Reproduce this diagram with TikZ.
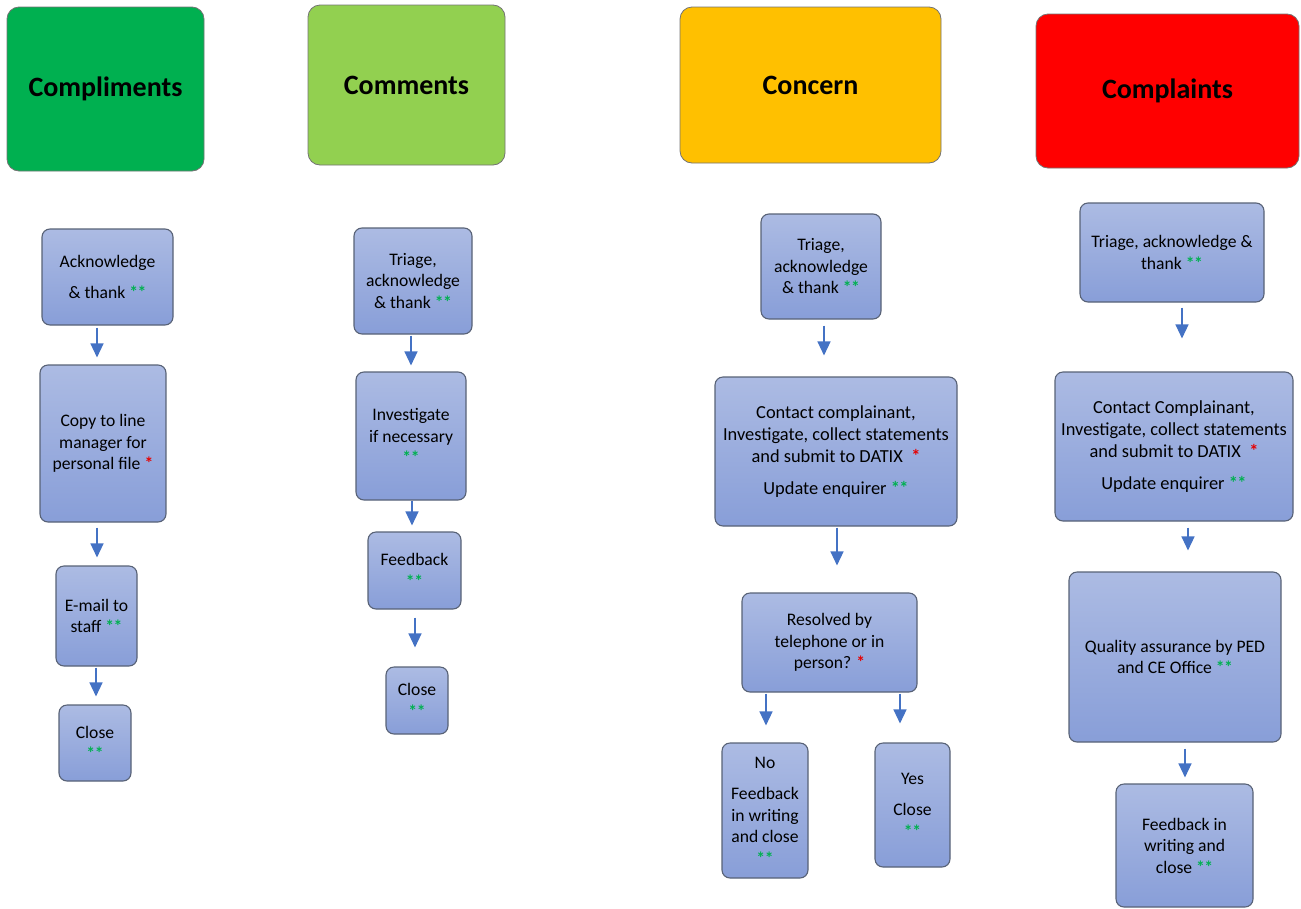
\documentclass[tikz,border=0pt]{standalone}
\usepackage{fontspec}
\setmainfont{Carlito}
\usetikzlibrary{arrows.meta}
\definecolor{cgreen}{RGB}{0,176,80}
\definecolor{clgreen}{RGB}{146,208,80}
\definecolor{corange}{RGB}{255,192,0}
\definecolor{cred}{RGB}{255,0,0}
\definecolor{btop}{RGB}{172,187,227}
\definecolor{bbot}{RGB}{136,158,216}
\definecolor{bdraw}{RGB}{88,98,118}
\definecolor{arrblue}{RGB}{68,114,196}
\definecolor{stargreen}{RGB}{0,176,80}
\definecolor{starred}{RGB}{230,0,0}
\newcommand{\gs}{\textcolor{stargreen}{\bfseries*\kern-0.5pt*}}
\newcommand{\rs}{\textcolor{starred}{\bfseries*}}
\tikzset{
  headbox/.style={rounded corners=12pt, draw=black!55, line width=0.8pt, inner sep=0pt,
    font=\fontsize{28}{32}\selectfont\bfseries},
  stepbox/.style={rounded corners=8pt, draw=bdraw, line width=1.1pt, top color=btop, bottom color=bbot,
    align=center, inner sep=0pt, font=\fontsize{17.6}{21.5}\selectfont},
  arr/.style={draw=arrblue, line width=1.3pt, -{Triangle[width=13pt,length=14pt]}, arrblue}
}
\begin{document}
\begin{tikzpicture}[x=1pt,y=-1pt]
\useasboundingbox (0,0) rectangle (1301,908);
% headers
\node[headbox, fill=cgreen, minimum width=197pt, minimum height=164pt] (h1) at (105.5,89) {Compliments};
\node[headbox, fill=clgreen, minimum width=197pt, minimum height=160pt] (h2) at (406.5,85) {Comments};
\node[headbox, fill=corange, minimum width=261pt, minimum height=156pt] (h3) at (810.5,85) {Concern};
\node[headbox, fill=cred, minimum width=263pt, minimum height=154pt] (h4) at (1167.5,91) {Complaints};
% compliments
\node[stepbox, minimum width=131pt, minimum height=96pt] (a1) at (107.5,277) {Acknowledge\\[9pt]\& thank \gs};
\node[stepbox, minimum width=126pt, minimum height=157pt] (a2) at (103,443.5) {Copy to line\\manager for\\personal file \rs};
\node[stepbox, minimum width=81pt, minimum height=100pt] (a3) at (96.5,616) {E-mail to\\staff \gs};
\node[stepbox, minimum width=72pt, minimum height=76pt] (a4) at (95,743) {Close\\\gs};
% comments
\node[stepbox, minimum width=118pt, minimum height=106pt] (b1) at (413,281) {Triage,\\acknowledge\\\& thank \gs};
\node[stepbox, minimum width=110pt, minimum height=128pt] (b2) at (411,436) {Investigate\\if necessary\\\gs};
\node[stepbox, minimum width=93pt, minimum height=77pt] (b3) at (414.5,570.5) {Feedback\\\gs};
\node[stepbox, minimum width=62pt, minimum height=67pt] (b4) at (417,700.5) {Close\\\gs};
% concern
\node[stepbox, minimum width=120pt, minimum height=105pt] (c1) at (821,266.5) {Triage,\\acknowledge\\\& thank \gs};
\node[stepbox, minimum width=242pt, minimum height=149pt, font=\fontsize{18.4}{22}\selectfont] (c2) at (836,451.5) {Contact complainant,\\Investigate, collect statements\\and submit to DATIX\ \ \rs\\[10pt]Update enquirer \gs};
\node[stepbox, minimum width=175pt, minimum height=99pt] (c3) at (829.5,642.5) {Resolved by\\telephone or in\\person? \rs};
\node[stepbox, minimum width=86pt, minimum height=135pt] (c4) at (765,810.5) {No\\[10pt]Feedback\\in writing\\and close\\\gs};
\node[stepbox, minimum width=75pt, minimum height=124pt] (c5) at (912.5,805) {Yes\\[10pt]Close\\\gs};
% complaints
\node[stepbox, minimum width=184pt, minimum height=99pt] (d1) at (1172,252.5) {Triage, acknowledge \&\\thank \gs};
\node[stepbox, minimum width=238pt, minimum height=149pt, font=\fontsize{18.4}{22}\selectfont] (d2) at (1174,446.5) {Contact Complainant,\\Investigate, collect statements\\and submit to DATIX\ \ \rs\\[10pt]Update enquirer \gs};
\node[stepbox, minimum width=212pt, minimum height=170pt] (d3) at (1175,657) {Quality assurance by PED\\and CE Office \gs};
\node[stepbox, minimum width=137pt, minimum height=123pt] (d4) at (1184.5,845.5) {Feedback in\\writing and\\close \gs};
% arrows
\draw[arr] ([xshift=-10.5pt,yshift=-2pt]a1.south) -- ([xshift=-6pt,yshift=7pt]a2.north);
\draw[arr] ([xshift=-6pt,yshift=-5pt]a2.south) -- ([xshift=0.5pt,yshift=8pt]a3.north);
\draw[arr] ([xshift=-0.5pt,yshift=-1pt]a3.south) -- ([xshift=1pt,yshift=8pt]a4.north);
\draw[arr] ([xshift=-2pt,yshift=-1pt]b1.south) -- ([xshift=0pt,yshift=6pt]b2.north);
\draw[arr] ([xshift=1pt,yshift=0pt]b2.south) -- ([xshift=-2.5pt,yshift=6pt]b3.north);
\draw[arr] ([xshift=0.5pt,yshift=-8pt]b3.south) -- ([xshift=-2pt,yshift=19pt]b4.north);
\draw[arr] ([xshift=3pt,yshift=-6pt]c1.south) -- ([xshift=-12pt,yshift=21pt]c2.north);
\draw[arr] ([xshift=1pt,yshift=-1pt]c2.south) -- ([xshift=7.5pt,yshift=27pt]c3.north);
\draw[arr] ([xshift=-63.5pt,yshift=-1pt]c3.south) -- ([xshift=1pt,yshift=17pt]c4.north);
\draw[arr] ([xshift=70.5pt,yshift=-1pt]c3.south) -- ([xshift=-12.5pt,yshift=19pt]c5.north);
\draw[arr] ([xshift=10pt,yshift=-5pt]d1.south) -- ([xshift=8pt,yshift=33pt]d2.north);
\draw[arr] ([xshift=14pt,yshift=-6pt]d2.south) -- ([xshift=13pt,yshift=21pt]d3.north);
\draw[arr] ([xshift=10pt,yshift=-6pt]d3.south) -- ([xshift=0.5pt,yshift=6pt]d4.north);
\end{tikzpicture}
\end{document}
